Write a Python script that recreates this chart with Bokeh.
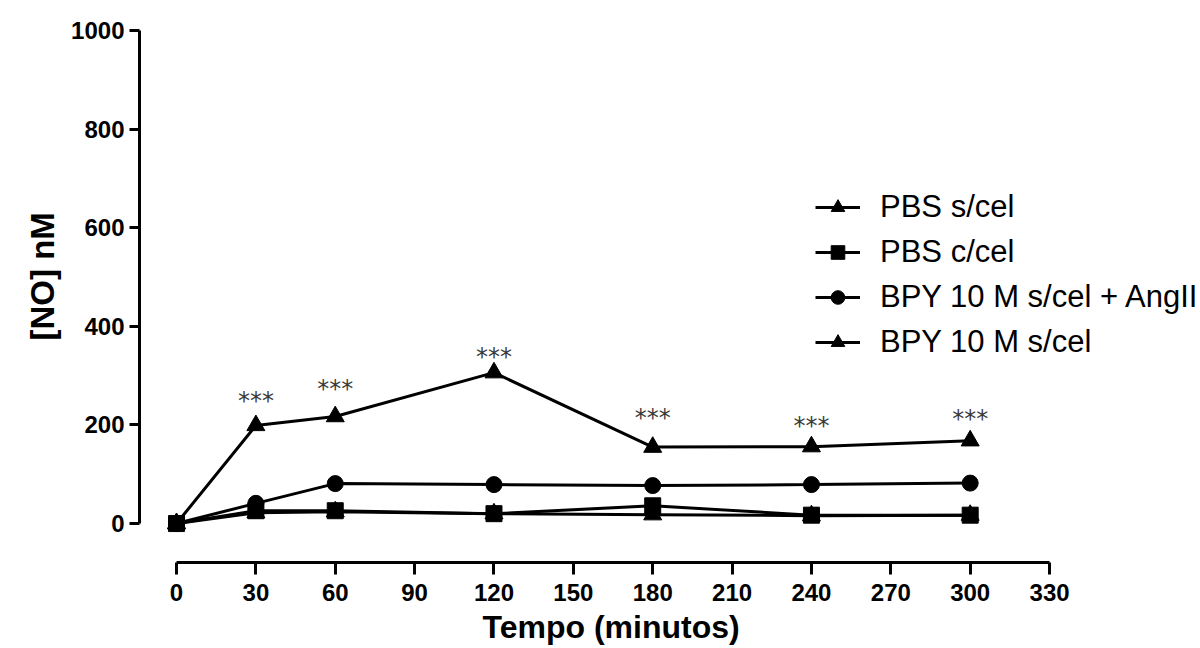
from bokeh.plotting import figure
from bokeh.models import Range1d, LinearAxis, FixedTicker, Legend, LegendItem, ColumnDataSource, Title
from bokeh.core.properties import value
from bokeh.embed import file_html
from bokeh.resources import INLINE

# ---- data ----
tempo = [0, 30, 60, 120, 180, 240, 300]
pbs_s_cel = [0, 22, 24, 20, 18, 16, 17]
pbs_c_cel = [0, 26, 26, 20, 36, 17, 17]
bpy_angii = [0, 41, 81, 79, 77, 79, 82]
bpy_s_cel = [0, 199, 217, 306, 155, 156, 168]

sig_x = [30, 60, 120, 180, 240, 300]
sig_y = [256, 282, 345, 223, 205, 221]
sig_text = ["***"] * 6

x_ticks = list(range(0, 331, 30))
y_ticks = [0, 200, 400, 600, 800, 1000]

x_title = "Tempo (minutos)"
y_title = "[NO] nM"

labels = ["PBS s/cel", "PBS c/cel", "BPY 10 M s/cel + AngII", "BPY 10 M s/cel"]
markers = ["triangle", "square", "circle", "triangle"]
msizes = [18, 16, 16, 18]
series = [pbs_s_cel, pbs_c_cel, bpy_angii, bpy_s_cel]

FONT = "Liberation Sans"

p = figure(width=1198, height=648, output_backend="svg", toolbar_location=None,
           x_range=Range1d(-13.99, 386.3), y_range=Range1d(-79, 1002),
           x_axis_type=None, y_axis_type=None,
           min_border_left=139, min_border_right=0, min_border_top=29, min_border_bottom=86)
p.outline_line_color = None
p.xgrid.visible = False
p.ygrid.visible = False
p.background_fill_color = "white"

def style_axis(ax, tick_out):
    ax.axis_line_width = 3
    ax.axis_line_color = "black"
    ax.major_tick_line_width = 3
    ax.major_tick_line_color = "black"
    ax.major_tick_out = tick_out
    ax.major_tick_in = 0
    ax.minor_tick_line_color = None
    ax.major_label_text_font = FONT
    ax.major_label_text_font_style = "bold"
    ax.major_label_text_font_size = "24px"
    ax.major_label_text_color = "black"

yax = LinearAxis(ticker=FixedTicker(ticks=y_ticks), bounds=(0, 1000))
style_axis(yax, 10)
yax.major_label_standoff = 5
p.add_layout(yax, "left")

xax = LinearAxis(ticker=FixedTicker(ticks=x_ticks), bounds=(0, 330))
style_axis(xax, 12)
xax.major_label_standoff = 9
p.add_layout(xax, "below")

# axis titles, placed along the axis spans (as in the reference)
p.add_layout(Title(text=x_title, align="left", offset=343, standoff=6,
                   text_font=FONT, text_font_style="bold", text_font_size="32px",
                   text_color="black"), "below")
p.add_layout(Title(text=y_title, align="left", offset=222, standoff=12, vertical_align="top",
                   text_font=FONT, text_font_style="bold", text_font_size="33px",
                   text_color="black"), "left")

items = []
for lab, mk, ms, ys in zip(labels, markers, msizes, series):
    src = ColumnDataSource(dict(x=tempo, y=ys))
    ln = p.line("x", "y", source=src, line_color="black", line_width=3)
    sc = p.scatter("x", "y", source=src, marker=mk, size=ms, fill_color="black", line_color="black")
    items.append(LegendItem(label=lab, renderers=[ln, sc]))

p.text(x=sig_x, y=sig_y, text=sig_text, text_align="center", text_baseline="middle",
       y_offset=4, text_font=value("DejaVu Sans"), text_font_size="24px", text_color="#3a3a3a")

legend = Legend(items=items, location=(676, 202), orientation="vertical",
                glyph_width=45, glyph_height=34, label_height=34, label_standoff=20,
                spacing=9, padding=0, margin=0,
                border_line_color=None, background_fill_alpha=0,
                label_text_font=FONT, label_text_font_size="31px", label_text_color="black")
p.add_layout(legend, "center")

open("out.html", "w").write(file_html(p, INLINE))
